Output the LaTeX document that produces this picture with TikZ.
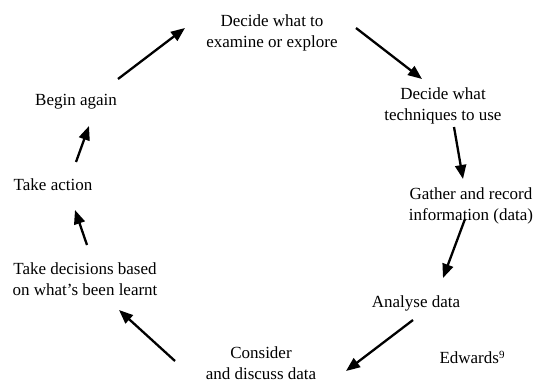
\documentclass[tikz,border=0pt]{standalone}
\usepackage{fontspec}
\setmainfont{Liberation Serif}
\usetikzlibrary{arrows.meta}
\tikzset{
  lbl/.style={align=center, inner sep=0pt, font=\fontsize{17}{21.5}\selectfont},
  arr/.style={line width=2.3pt, -{Triangle[length=14pt,width=11pt]}}
}
\begin{document}
\begin{tikzpicture}[x=1pt,y=-1pt]
\useasboundingbox (0,0) rectangle (534,382);
\node[lbl] (decide) at (272,33) {Decide what to\\examine or explore};
\node[lbl] (tech) at (443,106) {Decide what\\techniques to use};
\node[lbl] (gather) at (471,206) {Gather and record\\information (data)};
\node[lbl] (analyse) at (416,303) {Analyse data};
\node[lbl] (edwards) at (472,357) {Edwards{\fontsize{11}{11}\selectfont\raisebox{5pt}{9}}};
\node[lbl] (consider) at (261,363) {Consider\\and discuss data};
\node[lbl] (takedec) at (85,279) {Take decisions based\\on what’s been learnt};
\node[lbl] (action) at (53,185) {Take action};
\node[lbl] (begin) at (76,102) {Begin again};
% arrow ends
\coordinate (a1s) at (118,79);  \coordinate (a1e) at (185,28);
\coordinate (a2s) at (356,28);  \coordinate (a2e) at (422,79);
\coordinate (a3s) at (454,127); \coordinate (a3e) at (463,179);
\coordinate (a4s) at (465,219); \coordinate (a4e) at (443,278);
\coordinate (a5s) at (413,320); \coordinate (a5e) at (346,371);
\coordinate (a6s) at (175,361); \coordinate (a6e) at (119,310);
\coordinate (a7s) at (87,245);  \coordinate (a7e) at (75,210);
\coordinate (a8s) at (76,162);  \coordinate (a8e) at (89,126);
\draw[arr] (a1s) -- (a1e);
\draw[arr] (a2s) -- (a2e);
\draw[arr] (a3s) -- (a3e);
\draw[arr] (a4s) -- (a4e);
\draw[arr] (a5s) -- (a5e);
\draw[arr] (a6s) -- (a6e);
\draw[arr] (a7s) -- (a7e);
\draw[arr] (a8s) -- (a8e);
\end{tikzpicture}
\end{document}
